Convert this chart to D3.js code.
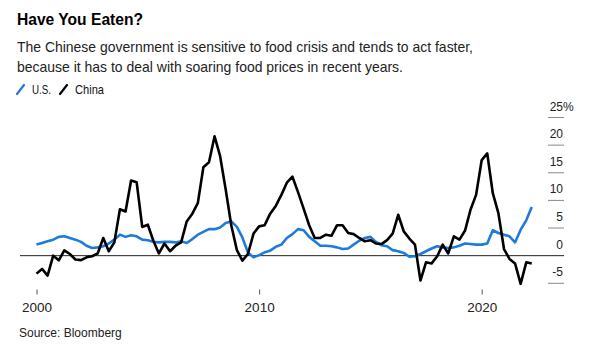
<!DOCTYPE html>
<html>
<head>
<meta charset="utf-8">
<script src="https://cdn.jsdelivr.net/npm/d3@7"></script>
<style>
  html, body { margin: 0; padding: 0; background: #fff; }
  svg { display: block; font-family: "Liberation Sans", Arial, sans-serif; }
</style>
</head>
<body>
<svg id="chart" width="598" height="356"></svg>
<script>
// ---- Data (quarterly, food price inflation YoY %, starting Q1 2000) ----
const startYear = 2000;
const chinaValues = [
  -3.25, -2.4, -3.6, 0, -0.85, 0.96, 0.3, -0.7, -0.8, -0.3,
  -0.1, 0.4, 3.2, 0.8, 2.4, 8.4, 8.0, 13.6, 13.3, 5.2,
  5.6, 2.7, 0.4, 2.2, 0.8, 1.8, 2.4, 6.2, 7.6, 9.5,
  16.0, 16.9, 21.6, 18.0, 12.0, 5.5, 1.0, -0.9, 0.3, 4.0,
  5.3, 5.5, 7.6, 9.0, 11.0, 13.2, 14.3, 11.5, 8.5, 5.5,
  3.2, 3.2, 3.8, 3.6, 5.5, 5.5, 4.1, 3.9, 3.2, 2.6,
  2.8, 2.2, 2.1, 2.8, 4.0, 7.4, 4.4, 3.1, 2.0, -4.5,
  -1.2, -1.4, -0.1, 2.0, 0.4, 3.5, 2.9, 4.5, 8.3, 11.0,
  17.3, 18.5, 11.3, 7.7, 1.2, -0.6, -1.4, -5.1, -1.2, -1.4
];
const usValues = [
  2.0, 2.3, 2.6, 2.9, 3.4, 3.5, 3.2, 2.9, 2.5, 1.8,
  1.4, 1.5, 1.7, 2.2, 2.9, 3.8, 3.4, 3.7, 3.5, 2.9,
  2.8, 2.5, 2.4, 2.5, 2.5, 2.4, 2.6, 2.3, 3.0, 3.8,
  4.3, 4.8, 4.8, 5.1, 5.9, 6.2, 5.2, 3.3, 0.6, -0.3,
  0.1, 0.6, 0.9, 1.6, 2.0, 3.2, 3.9, 4.8, 4.6, 3.4,
  2.6, 1.8, 1.8, 1.7, 1.5, 1.2, 1.3, 2.0, 2.7, 3.2,
  3.4, 2.5, 1.9, 1.7, 1.0, 0.8, 0.5, -0.2, -0.1, 0.3,
  0.8, 1.3, 1.7, 1.5, 1.4, 1.5, 1.8, 2.2, 2.1, 2.0,
  2.0, 2.2, 4.6, 4.1, 3.8, 3.5, 2.4, 4.7, 6.4, 8.8
];
const seriesNames = ["U.S.", "China"];
const yTicks = [-5, 0, 5, 10, 15, 20, 25];
const xTickYears = [2000, 2010, 2020];
const titleText = "Have You Eaten?";
const subtitleLines = [
  "The Chinese government is sensitive to food crisis and tends to act faster,",
  "because it has to deal with soaring food prices in recent years."
];
const sourceText = "Source: Bloomberg";

// ---- Build ----
const dates = chinaValues.map((_, i) => new Date(startYear, i * 3, 1));
const china = dates.map((d, i) => ({ date: d, value: chinaValues[i] }));
const us = dates.map((d, i) => ({ date: d, value: usValues[i] }));

const svg = d3.select("#chart");

const x = d3.scaleTime()
  .domain([new Date(2000, 0, 1), new Date(2020, 0, 1)])
  .range([36.5, 481.7]);
const y = d3.scaleLinear().domain([-5, 25]).range([283.3, 117.5]);

// Title & subtitle
svg.append("text")
  .attr("x", 17).attr("y", 25)
  .attr("font-size", 17).attr("font-weight", "bold").attr("fill", "#000")
  .attr("textLength", 126).attr("lengthAdjust", "spacingAndGlyphs")
  .text(titleText);

const subLens = [456, 386];
subtitleLines.forEach((t, i) => {
  svg.append("text")
    .attr("x", 17).attr("y", 52 + i * 20)
    .attr("font-size", 15).attr("fill", "#222")
    .attr("textLength", subLens[i]).attr("lengthAdjust", "spacingAndGlyphs")
    .text(t);
});

// Legend
const legendColors = ["#1f7bdb", "#000"];
const legendX = [17, 60];
const legendLens = [19, 29];
seriesNames.forEach((n, i) => {
  svg.append("line")
    .attr("x1", legendX[i]).attr("y1", 94)
    .attr("x2", legendX[i] + 7).attr("y2", 85)
    .attr("stroke", legendColors[i]).attr("stroke-width", 2.2)
    .attr("stroke-linecap", "round");
  svg.append("text")
    .attr("x", legendX[i] + 15).attr("y", 94)
    .attr("font-size", 13).attr("fill", "#111")
    .attr("textLength", legendLens[i]).attr("lengthAdjust", "spacingAndGlyphs")
    .text(n);
});

// Y ticks (right side)
const yg = svg.append("g");
yTicks.forEach(v => {
  if (v !== 0) {
    yg.append("line")
      .attr("x1", 548).attr("x2", 564)
      .attr("y1", y(v)).attr("y2", y(v))
      .attr("stroke", "#8a8a8a").attr("stroke-width", 1);
  }
  yg.append("text")
    .attr("x", 563).attr("y", y(v) - 7)
    .attr("text-anchor", "end")
    .attr("font-size", 12).attr("fill", "#222")
    .text(v);
});
yg.append("text")
  .attr("x", 563).attr("y", y(25) - 7)
  .attr("font-size", 12).attr("fill", "#222")
  .text("%");

// Zero line
svg.append("line")
  .attr("x1", 20).attr("x2", 564)
  .attr("y1", y(0)).attr("y2", y(0))
  .attr("stroke", "#222").attr("stroke-width", 1);

// X axis
const xAxis = d3.axisBottom(x)
  .tickValues(xTickYears.map(yr => new Date(yr, 0, 1)))
  .tickFormat(d3.timeFormat("%Y"))
  .tickSize(5)
  .tickPadding(8);
const xg = svg.append("g").attr("transform", "translate(0,289.5)").call(xAxis);
xg.select(".domain").remove();
xg.selectAll(".tick line").attr("stroke", "#555");
xg.selectAll(".tick text")
  .attr("font-size", 13.5).attr("fill", "#222")
  .attr("font-family", "Liberation Sans, Arial, sans-serif");

// Lines
const line = d3.line().x(d => x(d.date)).y(d => y(d.value));
svg.append("path").datum(us)
  .attr("d", line).attr("fill", "none")
  .attr("stroke", "#1f7bdb").attr("stroke-width", 2.6)
  .attr("stroke-linejoin", "round");
svg.append("path").datum(china)
  .attr("d", line).attr("fill", "none")
  .attr("stroke", "#000").attr("stroke-width", 2.6)
  .attr("stroke-linejoin", "round");

// Source
svg.append("text")
  .attr("x", 19).attr("y", 337)
  .attr("font-size", 12).attr("fill", "#222")
  .text(sourceText);
</script>
</body>
</html>
